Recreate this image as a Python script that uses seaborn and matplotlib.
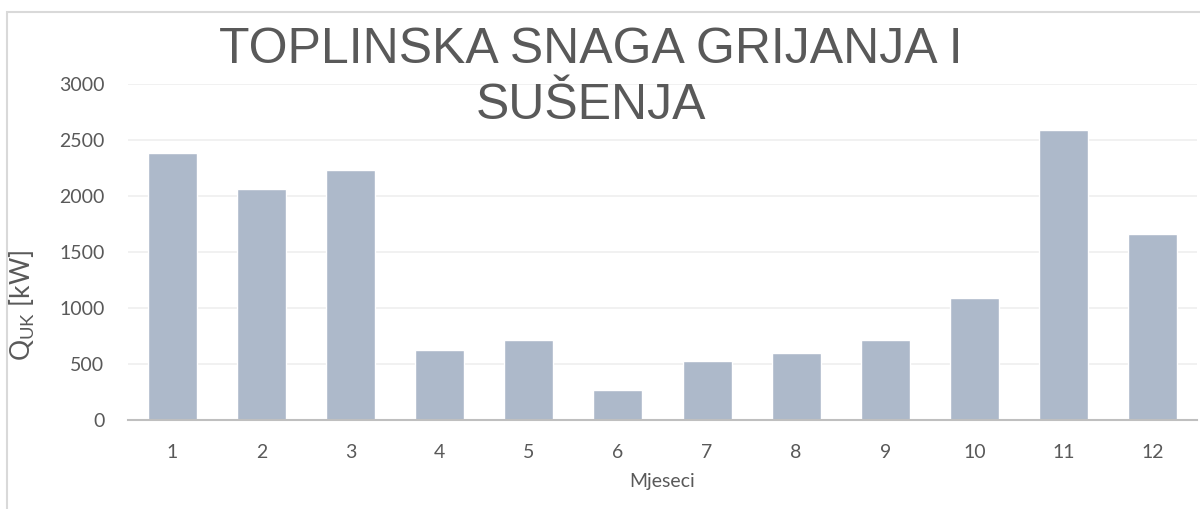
import pandas as pd
import seaborn as sns
import matplotlib.pyplot as plt
from matplotlib.patches import Rectangle

# Podaci očitani s grafa
mjeseci = ["1", "2", "3", "4", "5", "6", "7", "8", "9", "10", "11", "12"]
snaga_kw = [2385, 2065, 2235, 625, 710, 265, 530, 595, 715, 1085, 2585, 1665]

df = pd.DataFrame({"Mjeseci": mjeseci, "Q": snaga_kw})

sns.set_style("white")
plt.rcParams["font.family"] = ["Lato", "DejaVu Sans"]
plt.rcParams["mathtext.fontset"] = "custom"
plt.rcParams["mathtext.rm"] = "Lato"

siva = "#595959"

fig = plt.figure(figsize=(12, 5.09), dpi=100)
ax = fig.add_axes([128 / 1200, 89 / 509, 1069 / 1200, 336 / 509])

# okvir grafikona
fig.patches.append(Rectangle((7 / 1200, -0.1), 1.2, (509 - 12) / 509 + 0.1,
                             transform=fig.transFigure, fill=False,
                             edgecolor="#D9D9D9", linewidth=1.5, zorder=0))

sns.barplot(data=df, x="Mjeseci", y="Q", color="#ADB9CA", saturation=1,
            width=0.55, ax=ax, zorder=3)

ax.set_ylim(0, 3000)
ax.set_xlim(-0.5, 11.5)
ax.set_yticks(range(0, 3001, 500))
ax.yaxis.grid(True, color="#EFEFEF", linewidth=1.2, zorder=0)
ax.set_axisbelow(True)

for s in ["top", "right", "left"]:
    ax.spines[s].set_visible(False)
ax.spines["bottom"].set_color("#BFBFBF")
ax.spines["bottom"].set_linewidth(1.5)
ax.spines["bottom"].set_zorder(4)

ax.tick_params(axis="both", length=0, labelsize=14, colors=siva)
ax.tick_params(axis="x", pad=17)
ax.tick_params(axis="y", pad=17)

ax.set_xlabel("Mjeseci", fontsize=14, color=siva, labelpad=9)
ax.set_ylabel(r"Q$_\mathregular{UK}$ [kW]", fontsize=19, color=siva)
ax.yaxis.set_label_coords(-0.085, 0.34)

fig.text(591 / 1200, 1 - 78 / 509, "TOPLINSKA SNAGA GRIJANJA I\nSUŠENJA",
         ha="center", va="center", fontsize=36, color=siva,
         family=["Liberation Sans", "DejaVu Sans"], linespacing=1.3)

plt.savefig("out.png", dpi=100)
